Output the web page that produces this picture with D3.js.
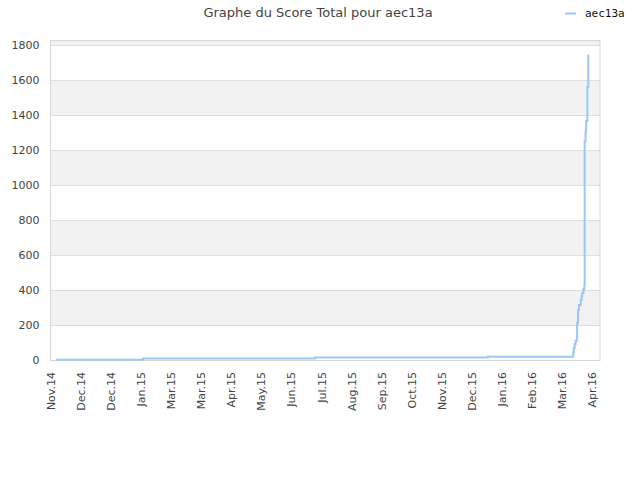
<!DOCTYPE html>
<html lang="fr">
<head>
    <meta charset="UTF-8">
    <title>Graphe du Score Total pour aec13a</title>
    <style>
        body { margin: 0; background: #fff; }
        .title { font-family: "DejaVu Sans", sans-serif; font-size: 13px; fill: #444; }
        .legend-label { font-family: "DejaVu Sans Mono", "Liberation Mono", monospace; font-size: 11px; fill: #111; }
        .axis text { font-family: "DejaVu Sans", sans-serif; font-size: 11px; fill: #444; }
    </style>
</head>
<body>
    <svg id="chart" width="640" height="480"></svg>

    <script src="https://d3js.org/d3.v7.min.js"></script>
    <script>
        // data
        const tickLabels = ["Nov.14", "Dec.14", "Dec.14", "Jan.15", "Mar.15", "Mar.15", "Apr.15", "May.15", "Jun.15",
                            "Jul.15", "Aug.15", "Sep.15", "Oct.15", "Nov.15", "Dec.15", "Jan.16", "Feb.16", "Mar.16", "Apr.16"];
        // position along the time axis, in units of tick spacing
        const timePos = [0.18, 3.08, 8.79, 14.54, 17.38, 17.40, 17.43, 17.46, 17.50, 17.51, 17.54, 17.57,
                         17.63, 17.66, 17.68, 17.72, 17.75, 17.76, 17.79, 17.81, 17.85, 17.88];
        const scores = [2, 8, 14, 18, 45, 70, 90, 110, 130, 211, 286, 314,
                        343, 366, 383, 406, 429, 1250, 1305, 1365, 1560, 1745];
        const yTicks = [0, 200, 400, 600, 800, 1000, 1200, 1400, 1600, 1800];
        const seriesName = "aec13a";

        const svg = d3.select("#chart");
        const plot = {left: 50.5, right: 600, top: 40, bottom: 360};

        const x = d3.scaleLinear().domain([0, 18.27]).range([plot.left, plot.right]);
        const y = d3.scaleLinear().domain([0, 1828]).range([plot.bottom, plot.top]);

        svg.append("text")
           .attr("class", "title")
           .attr("x", 318).attr("y", 17)
           .attr("text-anchor", "middle")
           .text("Graphe du Score Total pour " + seriesName);

        // legend
        svg.append("line")
           .attr("x1", 565).attr("x2", 576)
           .attr("y1", 13.5).attr("y2", 13.5)
           .attr("stroke", "#9ac8f5").attr("stroke-width", 2);
        svg.append("text")
           .attr("class", "legend-label")
           .attr("x", 585).attr("y", 17)
           .text(seriesName);

        svg.append("clipPath").attr("id", "clip")
           .append("rect")
           .attr("x", plot.left).attr("y", plot.top)
           .attr("width", plot.right - plot.left).attr("height", plot.bottom - plot.top);

        // alternating bands
        const bands = d3.range(0, 2000, 200);
        svg.append("g").attr("clip-path", "url(#clip)")
           .selectAll("rect")
           .data(bands.filter((d, i) => i % 2 === 1))
           .enter().append("rect")
           .attr("x", plot.left)
           .attr("width", plot.right - plot.left)
           .attr("y", d => y(d + 200))
           .attr("height", d => y(d) - y(d + 200))
           .attr("fill", "#f2f2f2");

        // grid lines
        svg.append("g")
           .selectAll("line")
           .data(yTicks)
           .enter().append("line")
           .attr("x1", plot.left).attr("x2", plot.right)
           .attr("y1", d => Math.round(y(d)) + 0.5).attr("y2", d => Math.round(y(d)) + 0.5)
           .attr("stroke", "#dedede");

        svg.append("rect")
           .attr("x", plot.left).attr("y", plot.top + 0.5)
           .attr("width", plot.right - plot.left).attr("height", plot.bottom - plot.top)
           .attr("fill", "none")
           .attr("stroke", "#d8d8d8");

        // y axis
        const yAxis = svg.append("g")
           .attr("class", "axis")
           .attr("transform", `translate(${plot.left},0)`)
           .call(d3.axisLeft(y).tickValues(yTicks).tickFormat(d3.format("d"))
                 .tickSize(0).tickPadding(11));
        yAxis.select(".domain").remove();

        // x axis
        const xAxis = svg.append("g")
           .attr("class", "axis")
           .attr("transform", `translate(0,${plot.bottom})`)
           .call(d3.axisBottom(x).tickValues(d3.range(tickLabels.length))
                 .tickFormat(i => tickLabels[i]).tickSize(0));
        xAxis.select(".domain").remove();
        xAxis.selectAll("text")
             .attr("transform", "rotate(-90)")
             .attr("text-anchor", "end")
             .attr("x", -12).attr("y", 0)
             .attr("dy", "0.35em");

        // score line
        const points = timePos.map((t, i) => [t, scores[i]]);
        svg.append("path")
           .datum(points)
           .attr("fill", "none")
           .attr("stroke", "#9ac8f5")
           .attr("stroke-width", 2)
           .attr("d", d3.line()
                 .x(d => x(d[0]))
                 .y(d => y(d[1]))
                 .curve(d3.curveStepAfter));
    </script>
</body>
</html>
